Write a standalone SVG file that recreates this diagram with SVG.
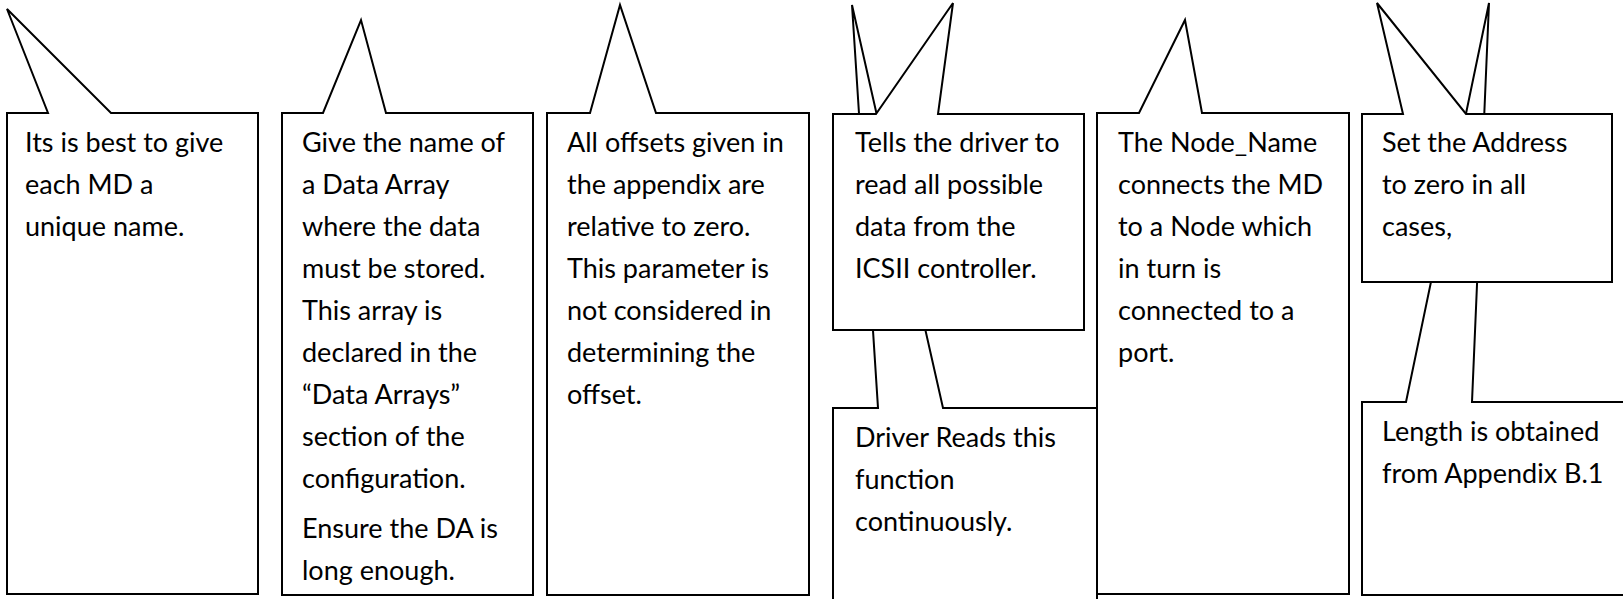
<svg xmlns="http://www.w3.org/2000/svg" width="1623" height="599" viewBox="0 0 1623 599">
<style>
.c{fill:#fff;stroke:#000;stroke-width:2;stroke-linejoin:miter}
.t{font-family:Lato,"Liberation Sans",sans-serif;font-size:27px;fill:#000}
</style>
<rect width="1623" height="599" fill="#fff"/>
<g id="callout-name">
<path class="c" d="M7,113 H48 L7,9 L111,113 H258 V594 H7 Z"/>
<text class="t" x="25"><tspan x="25" y="151.5">Its is best to give</tspan><tspan x="25" y="193.5">each MD a</tspan><tspan x="25" y="235.5">unique name.</tspan></text>
</g>
<g id="callout-data-array">
<path class="c" d="M282,113 H323 L361,20 L386,113 H533 V595 H282 Z"/>
<text class="t"><tspan x="302" y="151.5">Give the name of</tspan><tspan x="302" y="193.5">a Data Array</tspan><tspan x="302" y="235.5">where the data</tspan><tspan x="302" y="277.5">must be stored.</tspan><tspan x="302" y="319.5">This array is</tspan><tspan x="302" y="361.5">declared in the</tspan><tspan x="302" y="403.5">“Data Arrays”</tspan><tspan x="302" y="445.5">section of the</tspan><tspan x="302" y="487.5">configuration.</tspan><tspan x="302" y="537.5">Ensure the DA is</tspan><tspan x="302" y="579.5">long enough.</tspan></text>
</g>
<g id="callout-offset">
<path class="c" d="M547,113 H590 L620,5 L656,113 H809 V595 H547 Z"/>
<text class="t"><tspan x="567" y="151.5">All offsets given in</tspan><tspan x="567" y="193.5">the appendix are</tspan><tspan x="567" y="235.5">relative to zero.</tspan><tspan x="567" y="277.5">This parameter is</tspan><tspan x="567" y="319.5">not considered in</tspan><tspan x="567" y="361.5">determining the</tspan><tspan x="567" y="403.5">offset.</tspan></text>
</g>
<g id="callout-driver-reads">
<path class="c" d="M833,408 H878 L852,5 L943,408 H1097 V640 H833 Z"/>
<text class="t"><tspan x="855" y="446.5">Driver Reads this</tspan><tspan x="855" y="488.5">function</tspan><tspan x="855" y="530.5">continuously.</tspan></text>
</g>
<g id="callout-tells-driver">
<path class="c" d="M833,114 H876 L953,3 L938,114 H1084 V330 H833 Z"/>
<text class="t"><tspan x="855" y="152">Tells the driver to</tspan><tspan x="855" y="194">read all possible</tspan><tspan x="855" y="236">data from the</tspan><tspan x="855" y="278">ICSII controller.</tspan></text>
</g>
<g id="callout-node-name">
<path class="c" d="M1097,113 H1139 L1185,20 L1202,113 H1349 V594 H1097 Z"/>
<text class="t"><tspan x="1118" y="151.5">The Node_Name</tspan><tspan x="1118" y="193.5">connects the MD</tspan><tspan x="1118" y="235.5">to a Node which</tspan><tspan x="1118" y="277.5">in turn is</tspan><tspan x="1118" y="319.5">connected to a</tspan><tspan x="1118" y="361.5">port.</tspan></text>
</g>
<g id="callout-length">
<path class="c" d="M1362,402 H1406 L1489,3 L1472,402 H1640 V595 H1362 Z"/>
<text class="t"><tspan x="1382" y="440.5">Length is obtained</tspan><tspan x="1382" y="482.5">from Appendix B.1</tspan></text>
</g>
<g id="callout-address">
<path class="c" d="M1362,114 H1403 L1377,3 L1466,114 H1612 V282 H1362 Z"/>
<text class="t"><tspan x="1382" y="152">Set the Address</tspan><tspan x="1382" y="194">to zero in all</tspan><tspan x="1382" y="236">cases,</tspan></text>
</g>
<g id="connectors"></g>
</svg>
